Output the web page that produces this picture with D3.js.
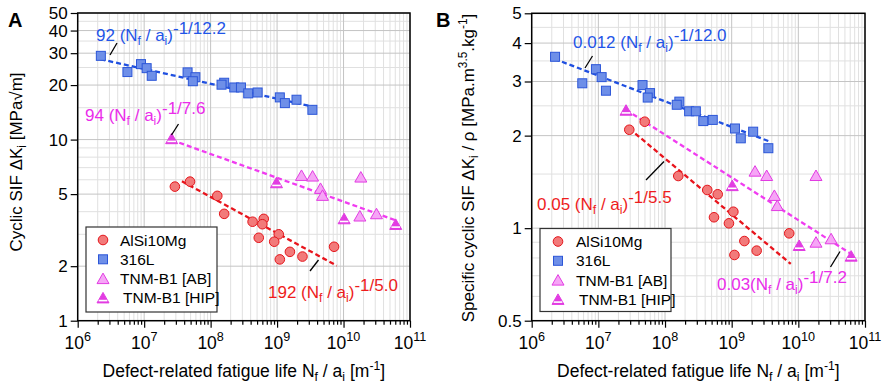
<!DOCTYPE html>
<html><head><meta charset="utf-8">
<script src="https://cdn.jsdelivr.net/npm/d3@7"></script>
<style>
html,body{margin:0;padding:0;background:#fff;}
svg{display:block;font-family:"Liberation Sans",Arial,Helvetica,sans-serif;}
</style></head>
<body><svg id="c" width="886" height="387"></svg>
<script>
// ---------- DATA ----------
const xTickPowers = [6, 7, 8, 9, 10, 11];
const yTicksA = [1, 2, 5, 10, 20, 30, 40, 50];
const yTicksB = [0.5, 1, 2, 3, 4, 5];
const legendLabels = ["AlSi10Mg", "316L", "TNM-B1 [AB]", "TNM-B1 [HIP]"];

// Panel A: cyclic SIF
const A_alsi_N = [2.9e7, 4.9e7, 1.26e8, 1.6e8, 4.28e8, 6.3e8, 6.0e8, 5.3e8, 1.06e9, 9.06e8, 1.1e9, 1.56e9, 2.41e9, 7.2e9];
const A_alsi_K = [5.5, 5.86, 4.89, 3.89, 3.52, 3.65, 3.41, 2.87, 3.0, 2.73, 2.18, 2.40, 2.26, 2.56];
const A_316_N = [2.23e6, 5.6e6, 8.96e6, 1.09e7, 1.3e7, 4.5e7, 5.9e7, 5.4e7, 1.6e8, 1.46e8, 2.27e8, 2.86e8, 3.68e8, 5.1e8, 1.1e9, 1.31e9, 1.96e9, 3.4e9];
const A_316_K = [29.0, 23.6, 26.1, 24.8, 22.5, 23.5, 22.1, 21.0, 20.6, 20.1, 19.4, 19.4, 18.0, 18.2, 17.1, 15.9, 16.6, 14.6];
const A_ab_N = [2.33e9, 3.42e9, 4.5e9, 4.83e9, 1.82e10, 1.76e10, 3.13e10];
const A_ab_K = [6.30, 6.25, 5.34, 4.89, 6.17, 3.76, 3.87];
const A_hip_N = [2.59e7, 9.8e8, 1.02e10, 6.1e10];
const A_hip_K = [10.05, 5.74, 3.63, 3.38];

// Panel B: specific cyclic SIF
const B_alsi_N = [2.91e7, 4.96e7, 1.58e8, 4.3e8, 6.17e8, 1.06e9, 5.43e8, 9.1e8, 7.3e9, 1.55e9, 2.37e9, 1.1e9];
const B_alsi_K = [2.09, 2.22, 1.478, 1.331, 1.289, 1.131, 1.085, 1.037, 0.962, 0.908, 0.845, 0.818];
const B_316_N = [2.24e6, 5.74e6, 9.2e6, 1.12e7, 1.3e7, 4.6e7, 5.96e7, 5.5e7, 1.64e8, 1.5e8, 2.3e8, 2.9e8, 3.75e8, 5.2e8, 1.12e9, 1.37e9, 2.1e9, 3.55e9];
const B_316_K = [3.61, 2.96, 3.29, 3.10, 2.80, 2.92, 2.75, 2.66, 2.58, 2.52, 2.40, 2.40, 2.23, 2.25, 2.11, 1.96, 2.06, 1.82];
const B_ab_N = [2.24e9, 3.35e9, 4.37e9, 4.83e9, 1.84e10, 1.84e10, 3.1e10];
const B_ab_K = [1.527, 1.478, 1.273, 1.18, 1.478, 0.897, 0.92];
const B_hip_N = [2.6e7, 1.02e9, 1.03e10, 6.2e10];
const B_hip_K = [2.41, 1.37, 0.875, 0.808];

// Power-law fits K = C * N^(-1/m), drawn from Nmin to Nmax
const A_fits = [
  {s: "316", C: 92, m: 12.2, N0: 2.2e6, N1: 4.0e9},
  {s: "ti", C: 94, m: 7.6, N0: 2.6e7, N1: 6.0e10},
  {s: "al", C: 192, m: 5.0, N0: 3.7e7, N1: 7.9e9}
];
const B_fits = [
  {s: "316", C: 12, m: 12.0, N0: 2.2e6, N1: 3.8e9},
  {s: "ti", C: 26, m: 7.2, N0: 2.6e7, N1: 6.0e10},
  {s: "al", C: 48, m: 5.5, N0: 2.9e7, N1: 7.7e9}
];

// ---------- STYLE ----------
const COL = {
  al:  {fill: "#f27a7a", stroke: "#e4161c", text: "#ee1c1c"},
  s316:{fill: "#6e8fe8", stroke: "#2c56d8", text: "#1f55e8"},
  ti:  {fill: "#f6a5f6", stroke: "#e23ce2", text: "#ea2cea"},
};
const lineCol = {"316": "#1f4fe0", "ti": "#f03cf0", "al": "#e8141c"};

const svg = d3.select("#c");

function drawMarker(g, type, cx, cy) {
  if (type === "al") {
    g.append("circle").attr("cx", cx).attr("cy", cy).attr("r", 4.8)
      .attr("fill", COL.al.fill).attr("stroke", COL.al.stroke).attr("stroke-width", 1);
  } else if (type === "316") {
    g.append("rect").attr("x", cx - 4.5).attr("y", cy - 4.5).attr("width", 9).attr("height", 9)
      .attr("fill", COL.s316.fill).attr("stroke", COL.s316.stroke).attr("stroke-width", 1);
  } else if (type === "ab") {
    g.append("path").attr("d", `M${cx},${cy-6}L${cx+6},${cy+4.5}L${cx-6},${cy+4.5}Z`)
      .attr("fill", COL.ti.fill).attr("stroke", COL.ti.stroke).attr("stroke-width", 1);
  } else if (type === "hip") {
    g.append("path").attr("d", `M${cx},${cy-6}L${cx+6},${cy+4.5}L${cx-6},${cy+4.5}Z`)
      .attr("fill", COL.ti.stroke).attr("stroke", COL.ti.stroke).attr("stroke-width", 1);
    g.append("line").attr("x1", cx - 4.3).attr("x2", cx + 4.3).attr("y1", cy + 2.2).attr("y2", cy + 2.2)
      .attr("stroke", "#fff").attr("stroke-width", 1.6);
  }
}

// rich text: parts = [[text, kind]] kind: n normal, sub, sup
function rich(g, x, y, parts, opts) {
  const t = g.append("text").attr("x", x).attr("y", y)
    .attr("font-size", opts.size).attr("fill", opts.fill || "#000");
  if (opts.anchor) t.attr("text-anchor", opts.anchor);
  if (opts.transform) t.attr("transform", opts.transform);
  let shift = 0;
  parts.forEach(([txt, kind]) => {
    const sp = t.append("tspan").text(txt);
    let target = 0, fs = opts.size;
    if (kind === "sub") { target = opts.subDy || opts.size * 0.25; fs = opts.size * (opts.subScale || 0.72); }
    if (kind === "sup") { target = -(opts.supDy || opts.size * 0.45); fs = opts.size * (opts.supScale || 0.72); }
    sp.attr("dy", target - shift).attr("font-size", fs);
    shift = target;
  });
  return t;
}

function drawPanel(cfg) {
  const x = d3.scaleLog().domain([1e6, 1e11]).range(cfg.xr);
  const y = d3.scaleLog().domain(cfg.yd).range(cfg.yr);
  const g = svg.append("g");
  const [x0, x1] = cfg.xr, [yb, yt] = cfg.yr;

  // minor gridlines
  const xMinor = [];
  for (let p = 6; p < 11; p++) for (let k = 2; k <= 9; k++) xMinor.push(k * Math.pow(10, p));
  const yMinor = cfg.yGridVals;
  g.append("g").selectAll("line").data(xMinor).join("line")
    .attr("x1", d => x(d)).attr("x2", d => x(d)).attr("y1", yt).attr("y2", yb)
    .attr("stroke", "#e0e0e0").attr("stroke-width", 1);
  g.append("g").selectAll("line").data(yMinor).join("line")
    .attr("x1", x0).attr("x2", x1).attr("y1", d => y(d)).attr("y2", d => y(d))
    .attr("stroke", "#e0e0e0").attr("stroke-width", 1);
  // major gridlines
  const xMajor = xTickPowers.map(p => Math.pow(10, p));
  g.append("g").selectAll("line").data(xMajor).join("line")
    .attr("x1", d => x(d)).attr("x2", d => x(d)).attr("y1", yt).attr("y2", yb)
    .attr("stroke", "#c4c4c4").attr("stroke-width", 1);
  g.append("g").selectAll("line").data(cfg.yTicks).join("line")
    .attr("x1", x0).attr("x2", x1).attr("y1", d => y(d)).attr("y2", d => y(d))
    .attr("stroke", "#c4c4c4").attr("stroke-width", 1);

  // axes
  const ax = g.append("g").attr("transform", `translate(0,${yb})`)
    .call(d3.axisBottom(x).tickValues(xMajor).tickSize(7).tickFormat(""));
  const axm = g.append("g").attr("transform", `translate(0,${yb})`)
    .call(d3.axisBottom(x).tickValues(xMinor).tickSize(4).tickFormat(""));
  [ax, axm].forEach(a => { a.select(".domain").remove(); a.selectAll("line").attr("stroke", "#000").attr("stroke-width", 1.2); });
  xTickPowers.forEach(p => {
    rich(g, x(Math.pow(10, p)), yb + 28, [["10", "n"], [String(p), "sup"]],
      {size: 17.5, anchor: "middle", supDy: 8, supScale: 0.72});
  });
  const ay = g.append("g").attr("transform", `translate(${x0},0)`)
    .call(d3.axisLeft(y).tickValues(cfg.yTicks).tickSize(7).tickPadding(3).tickFormat(d => String(d)));
  ay.select(".domain").remove();
  ay.selectAll("line").attr("stroke", "#000").attr("stroke-width", 1.2);
  ay.selectAll("text").attr("font-size", 17).attr("font-family", "Liberation Sans, Arial, sans-serif").attr("fill", "#000");

  // frame
  g.append("rect").attr("x", x0).attr("y", yt).attr("width", x1 - x0).attr("height", yb - yt)
    .attr("fill", "none").attr("stroke", "#000").attr("stroke-width", 1.5);

  // fit lines
  cfg.fits.forEach(f => {
    const pts = [f.N0, f.N1].map(N => [x(N), y(f.C * Math.pow(N, -1 / f.m))]);
    g.append("path").attr("d", d3.line()(pts)).attr("stroke", lineCol[f.s])
      .attr("stroke-width", 2.3).attr("stroke-dasharray", "5,3").attr("fill", "none");
  });

  // markers
  const mg = g.append("g");
  cfg.series.forEach(s => s.N.forEach((N, i) => drawMarker(mg, s.type, x(N), y(s.K[i]))));

  // panel letter
  g.append("text").attr("x", cfg.letterX).attr("y", 27).attr("font-size", 20).attr("font-weight", "bold").text(cfg.letter);

  // axis titles
  rich(g, (x0 + x1) / 2, 377, [["Defect-related fatigue life N", "n"], ["f", "sub"], [" / a", "n"], ["i", "sub"], [" [m", "n"], ["-1", "sup"], ["]", "n"]],
    {size: 17.5, anchor: "middle", subDy: 4, supDy: 7, subScale: 0.7, supScale: 0.7});
  rich(g, 0, 0, cfg.yTitle, {size: cfg.yTitleSize, anchor: "middle", subDy: 4, supDy: 7, subScale: 0.7, supScale: 0.7,
    transform: `translate(${cfg.yTitleX},${cfg.yTitleY}) rotate(-90)`});

  // annotations
  cfg.annots.forEach(a => {
    rich(g, a.x, a.y, [[a.c + (a.space ? " (N" : "(N"), "n"], ["f", "sub"], [" / a", "n"], ["i", "sub"], [")", "n"], ["-1/" + a.m, "sup"]],
      {size: 17, fill: a.col, subDy: 4, supDy: 7, subScale: 0.72, supScale: 1.0});
    g.append("line").attr("x1", a.l[0]).attr("y1", a.l[1]).attr("x2", a.l[2]).attr("y2", a.l[3])
      .attr("stroke", "#000").attr("stroke-width", 1.3);
  });

  // legend
  const L = cfg.legend;
  g.append("rect").attr("x", L.x).attr("y", L.y).attr("width", L.w).attr("height", L.h)
    .attr("fill", "#fff").attr("stroke", "#333").attr("stroke-width", 1.2);
  const types = ["al", "316", "ab", "hip"];
  legendLabels.forEach((lab, i) => {
    const yy = L.y + 13 + i * 19.3;
    drawMarker(g, types[i], L.mx, yy + (i >= 2 ? 0.5 : 0));
    g.append("text").attr("x", L.tx + (i === 3 ? 3 : 0)).attr("y", yy + 5.5).attr("font-size", 15.5).text(lab);
  });
}

drawPanel({
  letter: "A", letterX: 8,
  xr: [77.7, 410], yd: [1, 50], yr: [320.7, 13],
  yTicks: yTicksA,
  yGridVals: [3, 4, 6, 7, 8, 9, 15, 25, 35, 45],
  fits: A_fits,
  series: [
    {type: "316", N: A_316_N, K: A_316_K},
    {type: "al", N: A_alsi_N, K: A_alsi_K},
    {type: "ab", N: A_ab_N, K: A_ab_K},
    {type: "hip", N: A_hip_N, K: A_hip_K}
  ],
  yTitle: [["Cyclic SIF ΔK", "n"], ["i", "sub"], [" [MPa√m]", "n"]],
  yTitleSize: 17, yTitleX: 22, yTitleY: 162,
  annots: [
    {c: "92", m: "12.2", space: true, x: 96, y: 41, col: COL.s316.text, l: [110, 55, 117, 43]},
    {c: "94", m: "7.6", space: true, x: 85, y: 121, col: COL.ti.text, l: [171.5, 135, 178.5, 124]},
    {c: "192", m: "5.0", space: true, x: 268, y: 298, col: COL.al.text, l: [310, 271, 318.5, 260]}
  ],
  legend: {x: 86, y: 227, w: 131, h: 85, mx: 103, tx: 120}
});

drawPanel({
  letter: "B", letterX: 436,
  xr: [531.7, 865], yd: [0.5, 5], yr: [320.7, 13.3],
  yTicks: yTicksB,
  yGridVals: [0.6, 0.7, 0.8, 0.9, 1.5, 2.5, 3.5, 4.5],
  fits: B_fits,
  series: [
    {type: "316", N: B_316_N, K: B_316_K},
    {type: "al", N: B_alsi_N, K: B_alsi_K},
    {type: "ab", N: B_ab_N, K: B_ab_K},
    {type: "hip", N: B_hip_N, K: B_hip_K}
  ],
  yTitle: [["Specific cyclic SIF ΔK", "n"], ["i", "sub"], [" / ρ [MPa.m", "n"], ["3.5", "sup"], [".kg", "n"], ["-1", "sup"], ["]", "n"]],
  yTitleSize: 17, yTitleX: 474, yTitleY: 168,
  annots: [
    {c: "0.012", m: "12.0", space: true, x: 573, y: 48, col: COL.s316.text, l: [585, 68, 592.5, 56]},
    {c: "0.05", m: "5.5", space: true, x: 537, y: 210, col: COL.al.text, l: [646, 180, 664, 161.5]},
    {c: "0.03", m: "7.2", space: false, x: 717, y: 290, col: COL.ti.text, l: [830.5, 267, 840, 251.5]}
  ],
  legend: {x: 540, y: 228.5, w: 131, h: 83, mx: 558, tx: 576}
});
</script></body></html>
